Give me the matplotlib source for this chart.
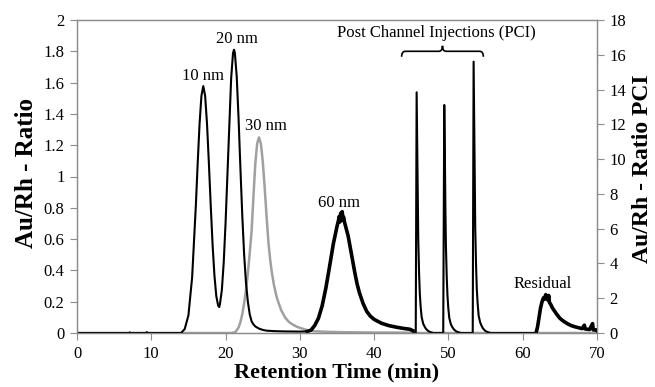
import matplotlib
matplotlib.use("Agg")
import matplotlib.pyplot as plt
from matplotlib.path import Path
from matplotlib.patches import PathPatch
import numpy as np

plt.rcParams['font.family'] = ['Liberation Serif', 'DejaVu Serif']

# ---- data ----
black_t = [0, 7.0, 7.1, 7.2, 9.3, 9.4, 9.5, 14.0, 14.5, 15.0, 15.5, 16.0, 16.25, 16.5, 16.75,
           17.0, 17.25, 17.5, 17.75, 18.0, 18.25, 18.5, 18.75, 19.0, 19.15, 19.25, 19.5, 19.75,
           20.0, 20.25, 20.5, 20.75, 21.0, 21.13, 21.25, 21.5, 21.75, 22.0, 22.25, 22.4, 22.5,
           22.75, 23.0, 23.25, 23.5, 23.75, 24.0, 24.5, 25.0, 25.5, 26.5, 28.0, 30.0, 31.0,
           31.5, 32.0, 32.5, 33.0, 33.5, 34.0, 34.5, 35.0, 35.2, 35.3, 35.4, 35.5, 35.6, 35.7,
           35.8, 35.9, 36.0, 36.5, 37.0, 37.4, 37.7, 38.0, 38.5, 39.0, 39.5, 40.0, 41.0, 42.0,
           43.0, 44.0, 44.8, 45.2, 45.35,
           45.6, 45.66, 45.72, 45.80, 45.87, 45.94, 46.05, 46.15, 46.26, 46.4, 46.6, 46.8, 47.0,
           47.3, 47.6, 48.0,
           49.3, 49.38, 49.44, 49.52, 49.59, 49.66, 49.77, 49.87, 49.98, 50.12, 50.32, 50.52,
           50.72, 51.02, 51.32, 51.7,
           53.27, 53.33, 53.39, 53.47, 53.54, 53.61, 53.72, 53.82, 53.93, 54.07, 54.27, 54.47,
           54.67, 54.97, 55.27, 55.7,
           61.8, 62.0, 62.2, 62.4, 62.6, 62.8, 62.9, 63.0, 63.1, 63.2, 63.4, 63.5, 63.6, 63.8,
           64.0, 64.5, 65.0, 65.5, 66.0, 66.5, 67.0, 67.5, 68.0, 68.3, 68.4, 69.0, 69.4, 69.5,
           69.9, 70.0]
black_y = [0, 0, 0.004, 0, 0, 0.006, 0, 0.0, 0.025, 0.113, 0.357, 0.816, 1.089, 1.338, 1.515,
           1.578, 1.515, 1.338, 1.089, 0.817, 0.566, 0.368, 0.236, 0.175, 0.166, 0.187, 0.275, 0.45,
           0.704, 1.017, 1.348, 1.626, 1.787, 1.81, 1.79, 1.64, 1.37, 1.05, 0.75, 0.594, 0.50,
           0.32, 0.20, 0.12, 0.075, 0.055, 0.042, 0.028, 0.02, 0.015, 0.012, 0.01, 0.009, 0.01,
           0.018, 0.048, 0.094, 0.173, 0.287, 0.425, 0.568, 0.681, 0.72, 0.745, 0.71, 0.765, 0.72,
           0.775, 0.73, 0.74, 0.71, 0.62, 0.49, 0.385, 0.315, 0.26, 0.19, 0.138, 0.107, 0.087,
           0.062, 0.047, 0.037, 0.029, 0.024, 0.015, 0.0,
           0.0, 0.8, 1.538, 1.2, 0.85, 0.594, 0.38, 0.25, 0.168, 0.10, 0.06, 0.04, 0.025,
           0.012, 0.005, 0.0,
           0.0, 0.76, 1.457, 1.14, 0.80, 0.56, 0.36, 0.24, 0.16, 0.095, 0.057, 0.038,
           0.024, 0.011, 0.005, 0.0,
           0.0, 0.9, 1.734, 1.35, 0.96, 0.67, 0.43, 0.28, 0.19, 0.11, 0.068, 0.045,
           0.028, 0.013, 0.006, 0.0,
           0.0, 0.04, 0.10, 0.16, 0.20, 0.225, 0.215, 0.232, 0.245, 0.22, 0.21, 0.24, 0.195, 0.18,
           0.16, 0.125, 0.094, 0.075, 0.06, 0.048, 0.04, 0.034, 0.028, 0.05, 0.026, 0.022, 0.06,
           0.02, 0.02, 0.015]

gray_t = [0, 20.8, 21.3, 21.75, 22.0, 22.25, 22.5, 22.75, 23.0, 23.25, 23.5, 23.75, 24.0, 24.25,
          24.5, 24.75, 25.0, 25.25, 25.5, 25.75, 26.0, 26.25, 26.5, 26.75, 27.0, 27.5, 28.0,
          28.5, 29.0, 29.6, 30.0, 31.0, 32.0, 34.0, 36.0, 40.0, 45.0, 46.0, 70.0]
gray_y = [0, 0, 0.005, 0.035, 0.07, 0.12, 0.19, 0.275, 0.38, 0.51, 0.65, 0.87, 1.08, 1.21,
          1.25, 1.21, 1.10, 0.94, 0.76, 0.59, 0.47, 0.38, 0.31, 0.255, 0.21, 0.145, 0.10,
          0.072, 0.055, 0.04, 0.033, 0.018, 0.011, 0.007, 0.005, 0.003, 0.002, 0, 0]

peak_labels = ["10 nm", "20 nm", "30 nm", "60 nm", "Residual"]
label_x = [17.0, 21.5, 25.4, 35.3, 62.7]
label_y = [1.64, 1.88, 1.32, 0.83, 0.31]

x_ticks = [0, 10, 20, 30, 40, 50, 60, 70]
left_ticks = [0, 0.2, 0.4, 0.6, 0.8, 1, 1.2, 1.4, 1.6, 1.8, 2]
right_ticks = [0, 2, 4, 6, 8, 10, 12, 14, 16, 18]

# ---- figure ----
fig = plt.figure(figsize=(6.55, 3.87), dpi=100)
ax = fig.add_axes([77/655, 54/387, 520/655, 313/387])
ax2 = ax.twinx()

bt = np.array(black_t)
by = np.array(black_y)
ax.plot(gray_t, gray_y, color='#a0a0a0', lw=1.8, zorder=2)
ax.plot(bt, by, color='black', lw=1.5, zorder=3)
for lo, hi in [(31.0, 45.2), (61.8, 70.0)]:
    m = (bt >= lo) & (bt <= hi)
    ax.plot(bt[m], by[m], color='black', lw=2.6, zorder=3)

for s, x, y in zip(peak_labels, label_x, label_y):
    ax.text(x, y, s, ha='center', va='center', fontsize=12)

ax.text(48.4, 1.915, "Post Channel Injections (PCI)", ha='center', va='center', fontsize=12)
verts = [(43.7, 1.765), (43.7, 1.80), (44.2, 1.80),
         (48.7, 1.80),
         (49.2, 1.80), (49.2, 1.835),
         (49.2, 1.80), (49.7, 1.80),
         (54.2, 1.80),
         (54.7, 1.80), (54.7, 1.765)]
codes = [Path.MOVETO, Path.CURVE3, Path.CURVE3,
         Path.LINETO,
         Path.CURVE3, Path.CURVE3,
         Path.CURVE3, Path.CURVE3,
         Path.LINETO,
         Path.CURVE3, Path.CURVE3]
ax.add_patch(PathPatch(Path(verts, codes), fill=False, lw=1.2, color='black', zorder=4))

ax.set_xlim(0, 70)
ax.set_ylim(0, 2)
ax2.set_ylim(0, 18)
ax.set_xticks(x_ticks)
ax.set_yticks(left_ticks)
ax.set_yticklabels(["%g" % v for v in left_ticks])
ax2.set_yticks(right_ticks)

for a in (ax, ax2):
    for sp in a.spines.values():
        sp.set_color('#8c8c8c')
        sp.set_linewidth(0.9)
    a.tick_params(axis='both', direction='out', length=5, width=0.8, color='#8c8c8c',
                  labelsize=12, pad=4)

ax.set_xlabel("Retention Time (min)", fontsize=16, fontweight='bold', labelpad=1)
fig.text(27/655, 1 - 173/387, "Au/Rh - Ratio", rotation=90, ha='center', va='center',
         fontsize=18, fontweight='bold')
fig.text(642/655, 1 - 169/387, "Au/Rh - Ratio PCI", rotation=90, ha='center', va='center',
         fontsize=17, fontweight='bold')

fig.savefig("out.png", dpi=100)
